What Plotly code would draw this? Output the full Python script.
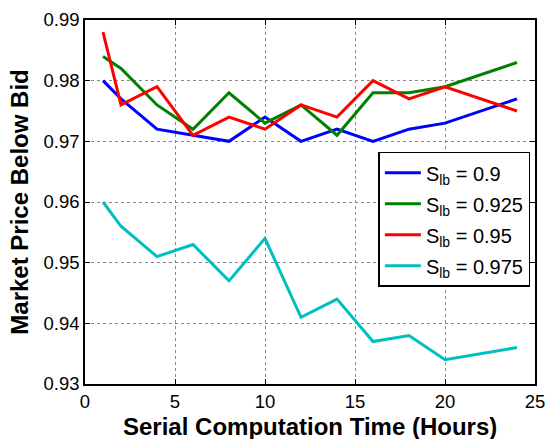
import plotly.graph_objects as go

hours = [1, 2, 4, 6, 8, 10, 12, 14, 16, 18, 20, 24]
s_090 = [0.980, 0.977, 0.972, 0.971, 0.970, 0.974, 0.970, 0.972, 0.970, 0.972, 0.973, 0.977]
s_0925 = [0.984, 0.982, 0.976, 0.972, 0.978, 0.973, 0.976, 0.971, 0.978, 0.978, 0.979, 0.983]
s_095 = [0.988, 0.976, 0.979, 0.971, 0.974, 0.972, 0.976, 0.974, 0.980, 0.977, 0.979, 0.975]
s_0975 = [0.960, 0.956, 0.951, 0.953, 0.947, 0.954, 0.941, 0.944, 0.937, 0.938, 0.934, 0.936]

series = [
    ("S<sub>lb</sub> = 0.9", s_090, "#0000ff"),
    ("S<sub>lb</sub> = 0.925", s_0925, "#008000"),
    ("S<sub>lb</sub> = 0.95", s_095, "#ff0000"),
    ("S<sub>lb</sub> = 0.975", s_0975, "#00bfbf"),
]

fig = go.Figure()
for i, (name, ys, col) in enumerate(series):
    fig.add_trace(go.Scatter(x=hours, y=ys, mode="lines", name=name,
                             legendgroup=f"g{i}",
                             line=dict(color=col, width=3)))

font = "Liberation Sans, Arial, Helvetica, sans-serif"
axis_common = dict(
    showline=True, linecolor="black", linewidth=1.5, mirror="ticks",
    ticks="inside", ticklen=5, tickcolor="black",
    showgrid=True, gridcolor="#888888", griddash="dot", gridwidth=1,
    zeroline=False, tickfont=dict(family=font, size=18.5, color="black"),
)
fig.update_xaxes(range=[0, 25], tickvals=[0, 5, 10, 15, 20, 25], **axis_common)
fig.update_yaxes(range=[0.93, 0.99], tickvals=[0.93, 0.94, 0.95, 0.96, 0.97, 0.98, 0.99],
                 tickformat=".2f",
                 title=dict(text="<b>Market Price Below Bid</b>",
                            font=dict(family=font, size=24, color="black"), standoff=8),
                 **axis_common)
fig.add_annotation(text="<b>Serial Computation Time (Hours)</b>",
                   xref="paper", yref="paper", x=0.5, y=-43 / 370,
                   xanchor="center", yanchor="middle", showarrow=False,
                   font=dict(family=font, size=24, color="black"))
fig.update_layout(
    width=554, height=439,
    margin=dict(l=85, r=9, t=14, b=55),
    plot_bgcolor="white", paper_bgcolor="white",
    font=dict(family=font, color="black"),
    legend=dict(x=0.652, y=0.638, xanchor="left", yanchor="top",
                bgcolor="white", bordercolor="black", borderwidth=1.5,
                font=dict(family=font, size=20, color="black"),
                tracegroupgap=2, itemwidth=36),
)
fig.write_html("out.html")
